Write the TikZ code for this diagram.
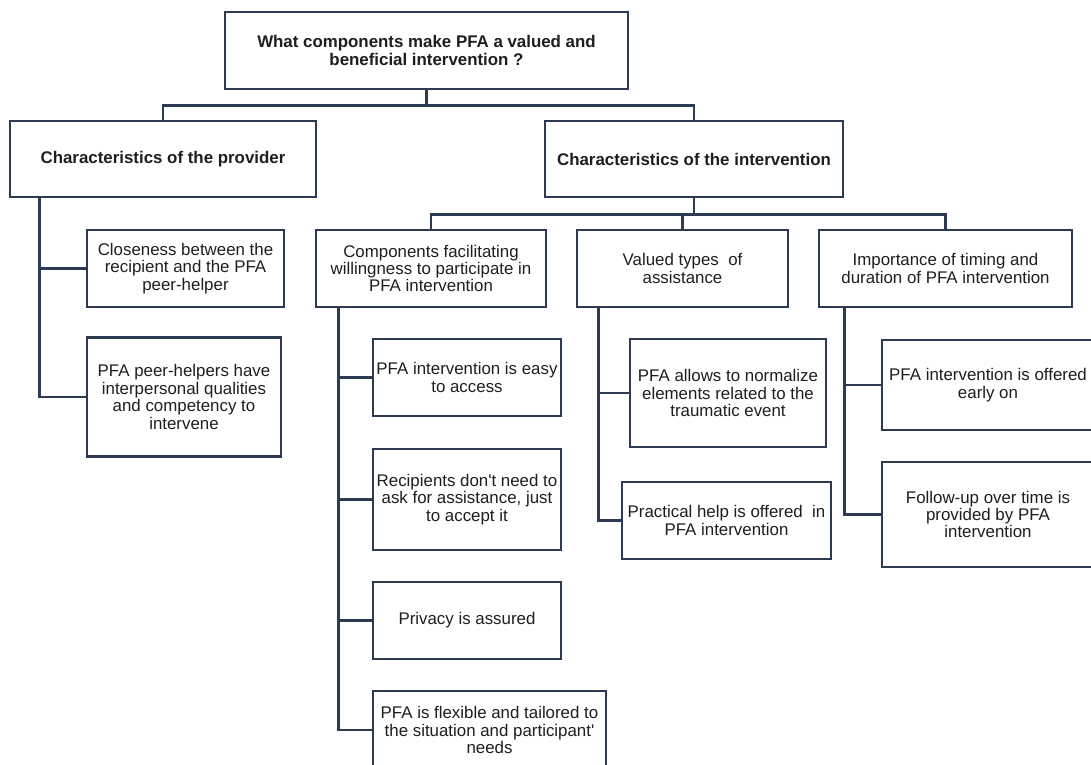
\documentclass[tikz,border=0pt]{standalone}
\usepackage{fontspec}
\setmainfont{Liberation Sans}
\definecolor{framec}{HTML}{2C3A52}
\definecolor{textc}{HTML}{1E1E1E}
\def\px{0.025cm}
\tikzset{
	box/.style 2 args={draw=framec, line width=2.1pt, align=center, inner sep=0pt, text=textc,
		minimum width=#1*\px, minimum height=#2*\px},
	head/.style 2 args={box={#1}{#2}, font=\bfseries\fontsize{12}{12.4}\selectfont},
	link/.style={draw=framec, line width=2.1pt, line join=miter}
}
\begin{document}
\begin{tikzpicture}[x=\px, y=-\px, font=\fontsize{12}{12.4}\selectfont]
	\useasboundingbox (0,0) rectangle (1091,764);
	% niveau 1 et 2
	\node[head={403}{77}] (top) at (426.5,50.5) {What components make PFA a valued and\\beneficial intervention ?};
	\node[head={306}{76}] (prov) at (163,159) {Characteristics of the provider};
	\node[head={298}{76}] (inter) at (694,159) {Characteristics of the intervention};
	\draw[link] (top.south) -- ++(0,15) -| (prov.north);
	\draw[link] (top.south) -- ++(0,15) -| (inter.north);
	% provider
	\node[box={197}{77}] (close) at (185.5,268.5) {Closeness between the\\recipient and the PFA\\peer-helper};
	\node[box={194}{119}] (peer) at (184,397) {PFA peer-helpers have\\interpersonal qualities\\and competency to\\intervene};
	\draw[link] (prov.south west) ++(31,0) coordinate (pv) |- (close.west);
	\draw[link] (pv) |- (peer.west);
	% intervention
	\node[box={230}{77}] (comp) at (431,268.5) {Components facilitating\\willingness to participate in\\PFA intervention};
	\node[box={211}{77}] (valued) at (682.5,268.5) {Valued types\ \ of\\assistance};
	\node[box={253}{77}] (timing) at (945.5,268.5) {Importance of timing and\\duration of PFA intervention};
	\foreach \c in {comp,valued,timing}
		\draw[link] (inter.south) -- ++(0,16) -| (\c.north);
	% components
	\node[box={188}{77}] (easy) at (467,377.5) {PFA intervention is easy\\to access};
	\node[box={188}{101}] (recip) at (467,499.5) {Recipients don\textquotesingle t need to\\ask for assistance, just\\to accept it};
	\node[box={188}{77}] (priv) at (467,620.5) {Privacy is assured};
	\node[box={233}{78}] (flex) at (489.5,730) {PFA is flexible and tailored to\\the situation and participant\textquotesingle\\needs};
	\draw[link] (comp.south west) ++(24,0) coordinate (cv) |- (flex.west);
	\foreach \c in {easy,recip,priv}
		\draw[link] (cv) |- (\c.west);
	% valued types
	\node[box={196}{108}] (norm) at (728,393) {PFA allows to normalize\\elements related to the\\traumatic event};
	\node[box={209}{77}] (pract) at (726.5,520.5) {Practical help is offered\ \ in\\PFA intervention};
	\draw[link] (valued.south west) ++(23,0) coordinate (vv) |- (pract.west);
	\draw[link] (vv) |- (norm.west);
	% timing
	\node[box={212}{90}] (early) at (988,385) {PFA intervention is offered\\early on};
	\node[box={212}{105}] (follow) at (988,514.5) {Follow-up over time is\\provided by PFA\\intervention};
	\draw[link] (timing.south west) ++(27,0) coordinate (tv) |- (follow.west);
	\draw[link] (tv) |- (early.west);
\end{tikzpicture}
\end{document}
